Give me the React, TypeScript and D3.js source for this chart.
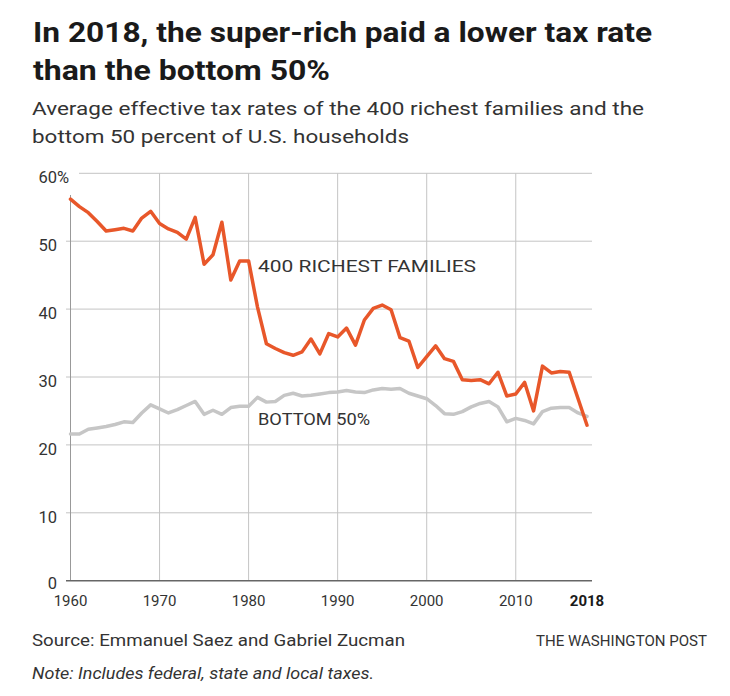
import React from "react";
import * as d3 from "d3";

const years: number[] = d3.range(1960, 2019);

const richest400: number[] = [
  56.2, 55.1, 54.2, 52.9, 51.5, 51.7, 51.9, 51.5, 53.4, 54.4,
  52.6, 51.8, 51.3, 50.3, 53.5, 46.6, 48.0, 52.8, 44.3, 47.1,
  47.1, 40.3, 34.9, 34.2, 33.6, 33.2, 33.7, 35.6, 33.4, 36.4,
  35.9, 37.2, 34.7, 38.4, 40.1, 40.6, 39.9, 35.8, 35.3, 31.4,
  33.0, 34.6, 32.7, 32.3, 29.6, 29.5, 29.6, 29.0, 30.7, 27.2,
  27.5, 29.2, 25.0, 31.6, 30.6, 30.8, 30.7, 26.8, 22.9,
];

const bottom50: number[] = [
  21.6, 21.6, 22.3, 22.5, 22.7, 23.0, 23.4, 23.3, 24.7, 25.9,
  25.3, 24.7, 25.2, 25.8, 26.4, 24.5, 25.1, 24.5, 25.5, 25.7,
  25.7, 27.0, 26.3, 26.4, 27.3, 27.6, 27.2, 27.3, 27.5, 27.7,
  27.8, 28.0, 27.8, 27.7, 28.1, 28.3, 28.2, 28.3, 27.6, 27.2,
  26.8, 25.8, 24.6, 24.5, 24.9, 25.6, 26.1, 26.4, 25.6, 23.4,
  23.9, 23.6, 23.1, 24.9, 25.4, 25.5, 25.5, 24.7, 24.2,
];

const yTicks: number[] = [0, 10, 20, 30, 40, 50, 60];
const xTicks: number[] = [1960, 1970, 1980, 1990, 2000, 2010, 2018];

const titleLines: string[] = [
  "In 2018, the super-rich paid a lower tax rate",
  "than the bottom 50%",
];
const subtitleLines: string[] = [
  "Average effective tax rates of the 400 richest families and the",
  "bottom 50 percent of U.S. households",
];

const FONT = "Roboto, 'Noto Sans', 'DejaVu Sans', sans-serif";

export default function App() {
  const W = 730;
  const H = 696;
  const x = d3.scaleLinear().domain([1960, 2018]).range([70.5, 587]);
  const y = d3.scaleLinear().domain([0, 60]).range([580.7, 173.3]);

  const line = d3
    .line<number>()
    .x((_, i) => x(years[i]))
    .y((d) => y(d))
    .curve(d3.curveLinear);

  const gridColor = "#c4c4c4";

  return (
    <div style={{ position: "absolute", left: 0, top: 0, width: W, height: H, background: "#fff" }}>
      <svg width={W} height={H} style={{ display: "block" }} fontFamily={FONT}>
        <rect width={W} height={H} fill="#fff" />
        {/* Title */}
        <text x={33} y={42} fontSize={28} fontWeight={700} fill="#1a1a1a" textLength={619} lengthAdjust="spacingAndGlyphs">
          {titleLines[0]}
        </text>
        <text x={33} y={79.5} fontSize={28} fontWeight={700} fill="#1a1a1a" textLength={297} lengthAdjust="spacingAndGlyphs">
          {titleLines[1]}
        </text>
        {/* Subtitle */}
        <text x={32} y={115} fontSize={19} fill="#333" textLength={612} lengthAdjust="spacingAndGlyphs">
          {subtitleLines[0]}
        </text>
        <text x={32} y={143} fontSize={19} fill="#333" textLength={377} lengthAdjust="spacingAndGlyphs">
          {subtitleLines[1]}
        </text>

        {/* Horizontal gridlines */}
        {yTicks.filter((t) => t > 0).map((t) => (
          <line key={"h" + t} x1={t === 60 ? 79 : 66} x2={592} y1={y(t)} y2={y(t)} stroke={gridColor} strokeWidth={1} />
        ))}
        {/* Vertical gridlines */}
        {xTicks.filter((t) => t < 2018).map((t) => (
          <line key={"v" + t} x1={x(t)} x2={x(t)} y1={t === 1960 ? 195 : y(60)} y2={y(0)} stroke={t === 1960 ? "#999" : gridColor} strokeWidth={1} />
        ))}
        {/* Baseline */}
        <line x1={66} x2={592} y1={y(0)} y2={y(0)} stroke="#666" strokeWidth={1.5} />

        {/* Y labels */}
        {yTicks.map((t) => (
          <g key={"yl" + t}>
            <text x={57} y={y(t) + (t === 0 ? 8 : 10)} fontSize={16.5} fill="#333" textAnchor="end">
              {t}
            </text>
            {t === 60 && (
              <text x={57} y={y(t) + 10} fontSize={16.5} fill="#333">
                %
              </text>
            )}
          </g>
        ))}

        {/* X labels */}
        {xTicks.map((t) => (
          <text key={"xl" + t} x={x(t)} y={606} fontSize={15} fill={t === 2018 ? "#1a1a1a" : "#333"} fontWeight={t === 2018 ? 700 : 400} textAnchor="middle">
            {t}
          </text>
        ))}

        {/* Lines */}
        <path d={line(bottom50) || ""} fill="none" stroke="#c6c6c6" strokeWidth={3.5} strokeLinejoin="round" strokeLinecap="round" />
        <path d={line(richest400) || ""} fill="none" stroke="#e8572a" strokeWidth={3.5} strokeLinejoin="round" strokeLinecap="round" />

        {/* Series labels */}
        <text x={258} y={272} fontSize={16} fill="#333" textLength={218} lengthAdjust="spacingAndGlyphs">
          400 RICHEST FAMILIES
        </text>
        <text x={258} y={425} fontSize={16} fill="#333" textLength={112} lengthAdjust="spacingAndGlyphs">
          BOTTOM 50%
        </text>

        {/* Footer */}
        <text x={32} y={646} fontSize={17} fill="#333" textLength={373} lengthAdjust="spacingAndGlyphs">
          Source: Emmanuel Saez and Gabriel Zucman
        </text>
        <text x={707} y={646} fontSize={15} fill="#333" textAnchor="end" textLength={171} lengthAdjust="spacingAndGlyphs">
          THE WASHINGTON POST
        </text>
        <text x={32} y={679} fontSize={16} fill="#333" fontStyle="italic" textLength={342} lengthAdjust="spacingAndGlyphs">
          Note: Includes federal, state and local taxes.
        </text>
      </svg>
    </div>
  );
}
